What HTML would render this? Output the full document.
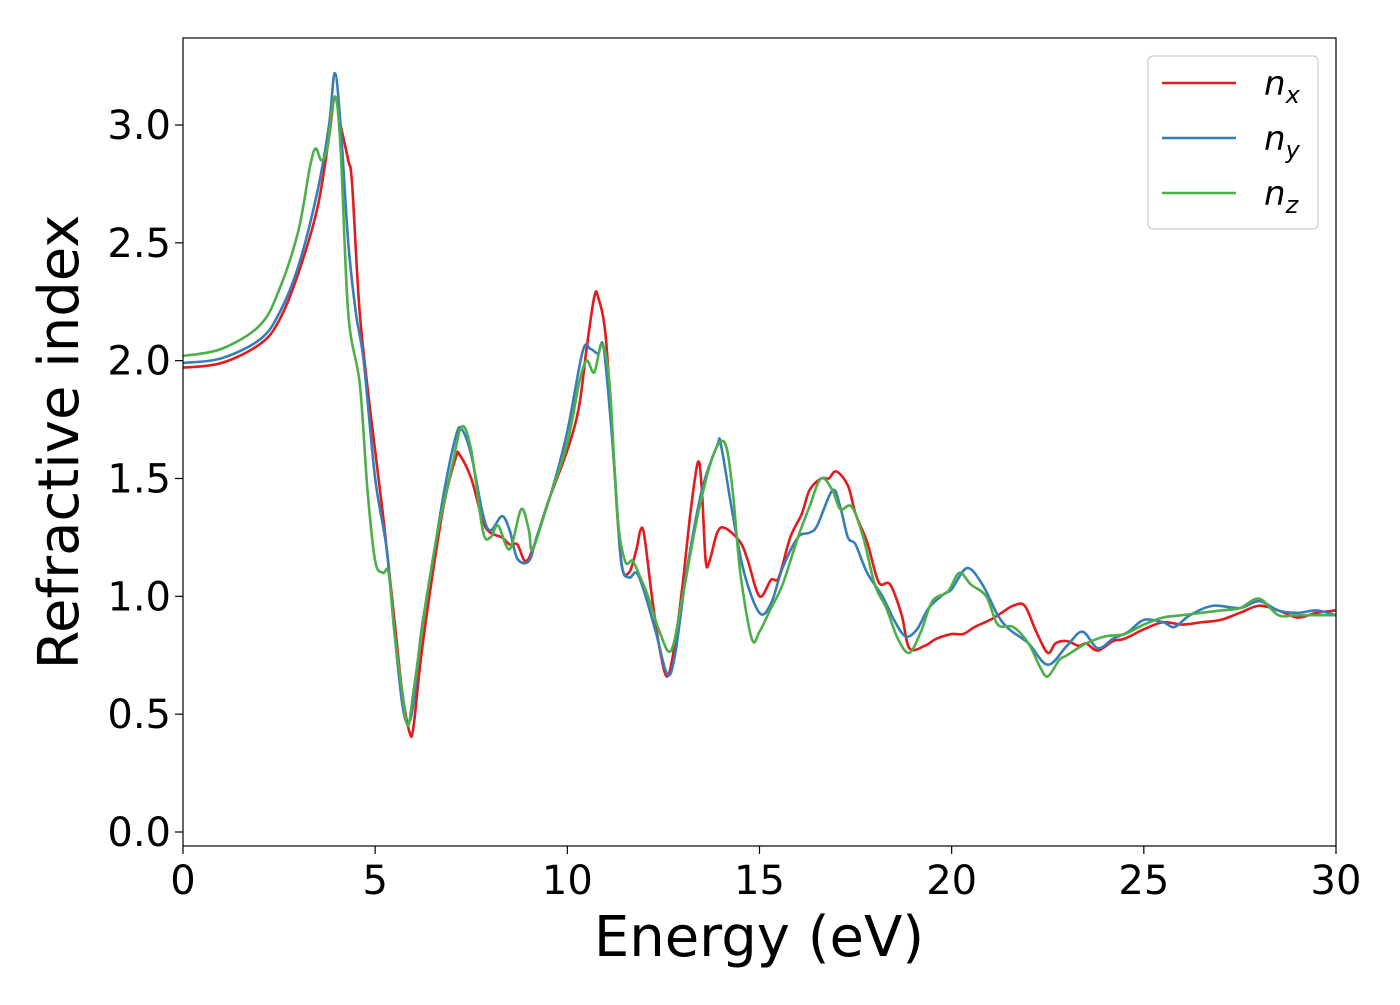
<!DOCTYPE html>
<html><head><meta charset="utf-8"><style>
body{margin:0;background:#fff}
svg text{font-family:"DejaVu Sans","Liberation Sans",sans-serif;fill:#000}
</style></head><body>
<svg id="chart" width="1400" height="1000" xmlns="http://www.w3.org/2000/svg">
<g id="plot"></g>
</svg>
<script>
const xTicks=[0,5,10,15,20,25,30];
const yTicks=[0.0,0.5,1.0,1.5,2.0,2.5,3.0];
const yTickLabels=["0.0","0.5","1.0","1.5","2.0","2.5","3.0"];
const nxE=[0,1,2,2.5,3,3.5,3.8,3.95,4.1,4.3,4.4,4.6,4.9,5.2,5.5,5.7,5.9,6.0,6.2,6.5,6.8,7.1,7.2,7.5,7.8,8.0,8.3,8.5,8.7,8.9,9.1,9.5,10.0,10.3,10.5,10.7,10.8,11.0,11.2,11.4,11.6,11.8,11.9,12.0,12.2,12.4,12.6,12.8,13.0,13.2,13.4,13.5,13.6,13.7,13.9,14.1,14.5,14.7,15.0,15.3,15.5,15.8,16.1,16.3,16.6,16.8,17.0,17.3,17.5,17.8,18.1,18.4,18.7,18.9,19.3,19.6,20,20.3,20.6,21.0,21.3,21.6,21.9,22.2,22.5,22.7,23,23.3,23.5,23.8,24.2,24.5,25,25.5,26,26.5,27,27.5,28,28.5,29,29.5,30];
const nxV=[1.97,1.99,2.07,2.17,2.37,2.65,2.95,3.12,3.0,2.85,2.75,2.2,1.75,1.35,0.9,0.6,0.42,0.45,0.75,1.1,1.4,1.59,1.6,1.5,1.32,1.27,1.25,1.22,1.22,1.15,1.2,1.4,1.62,1.8,2.05,2.27,2.27,2.1,1.6,1.15,1.1,1.2,1.28,1.26,1.0,0.78,0.66,0.8,1.05,1.35,1.57,1.45,1.15,1.15,1.27,1.29,1.23,1.15,1.0,1.07,1.08,1.25,1.35,1.45,1.5,1.5,1.53,1.47,1.35,1.23,1.06,1.05,0.92,0.78,0.79,0.82,0.84,0.84,0.87,0.9,0.93,0.96,0.96,0.85,0.76,0.8,0.81,0.79,0.8,0.77,0.81,0.82,0.86,0.89,0.88,0.89,0.9,0.93,0.96,0.94,0.91,0.93,0.94];
const nyE=[0,1,2,2.5,3,3.5,3.8,3.95,4.1,4.3,4.5,4.7,5.0,5.3,5.5,5.7,5.85,6.0,6.2,6.5,6.8,7.1,7.25,7.5,7.8,8.0,8.3,8.5,8.7,9.0,9.2,9.6,10.0,10.4,10.6,10.8,10.95,11.2,11.4,11.6,11.8,12.0,12.3,12.6,12.8,13.1,13.5,13.9,14.0,14.3,14.6,15.0,15.3,15.6,16.0,16.3,16.5,16.9,17.1,17.3,17.5,17.8,18.2,18.5,18.8,19.1,19.4,19.8,20.0,20.4,20.8,21.2,21.5,22,22.5,23,23.4,23.8,24.2,24.6,25,25.5,25.8,26.2,26.8,27.5,28,28.5,29,29.5,30];
const nyV=[1.99,2.01,2.09,2.2,2.4,2.72,3.0,3.22,3.0,2.5,2.2,2.0,1.5,1.2,0.85,0.55,0.46,0.55,0.85,1.15,1.45,1.68,1.71,1.6,1.35,1.28,1.34,1.28,1.16,1.15,1.25,1.45,1.7,2.04,2.05,2.03,2.05,1.6,1.15,1.08,1.1,1.02,0.85,0.67,0.75,1.1,1.45,1.64,1.64,1.35,1.1,0.93,0.97,1.12,1.25,1.27,1.3,1.45,1.38,1.25,1.22,1.1,1.0,0.9,0.83,0.86,0.95,1.01,1.03,1.12,1.05,0.92,0.86,0.8,0.71,0.79,0.85,0.78,0.82,0.85,0.9,0.89,0.87,0.92,0.96,0.95,0.98,0.94,0.93,0.94,0.92];
const nzE=[0,1,2,2.5,3,3.3,3.45,3.6,3.75,3.95,4.1,4.3,4.6,4.8,5.0,5.2,5.35,5.5,5.7,5.85,6.0,6.3,6.6,7.0,7.25,7.5,7.8,8.0,8.2,8.5,8.8,9.0,9.1,9.5,10.0,10.3,10.5,10.7,10.9,11.1,11.3,11.5,11.7,11.9,12.1,12.4,12.7,13.0,13.4,13.8,14.1,14.3,14.5,14.8,15.0,15.3,15.6,16.0,16.3,16.6,16.9,17.1,17.4,17.7,18.0,18.3,18.6,18.9,19.2,19.5,19.9,20.2,20.5,20.9,21.2,21.6,22,22.3,22.5,22.8,23,23.5,24,24.5,25,25.5,26,26.5,27,27.5,28,28.5,29,30];
const nzV=[2.02,2.05,2.15,2.3,2.55,2.82,2.9,2.85,2.9,3.12,2.9,2.2,1.9,1.45,1.15,1.1,1.1,0.85,0.6,0.45,0.6,0.95,1.25,1.55,1.72,1.62,1.28,1.25,1.3,1.2,1.37,1.28,1.2,1.4,1.65,1.9,2.0,1.95,2.07,1.9,1.35,1.15,1.15,1.08,1.0,0.85,0.77,1.0,1.35,1.6,1.65,1.45,1.1,0.82,0.85,0.95,1.05,1.25,1.38,1.5,1.45,1.37,1.38,1.25,1.05,0.95,0.82,0.76,0.85,0.98,1.02,1.1,1.05,1.0,0.88,0.87,0.8,0.7,0.66,0.73,0.75,0.8,0.83,0.84,0.88,0.91,0.92,0.93,0.94,0.95,0.99,0.92,0.92,0.92];

const L=183,R=1336,T=38,B=846;
const X=e=>L+(e-0)/30*(R-L);
const Y=v=>832-v*(832-125)/3;
const NS="http://www.w3.org/2000/svg";
const svg=document.getElementById('chart');
function mk(tag,attrs,parent){const el=document.createElementNS(NS,tag);for(const k in attrs)el.setAttribute(k,attrs[k]);(parent||svg).appendChild(el);return el;}
function smooth(E,V){const p=E.map((e,i)=>[X(e),Y(V[i])]);let d=`M${p[0][0]},${p[0][1]}`;
for(let i=0;i<p.length-1;i++){const p0=p[Math.max(0,i-1)],p1=p[i],p2=p[i+1],p3=p[Math.min(p.length-1,i+2)];
const c1=[p1[0]+(p2[0]-p0[0])/6,p1[1]+(p2[1]-p0[1])/6],c2=[p2[0]-(p3[0]-p1[0])/6,p2[1]-(p3[1]-p1[1])/6];
d+=`C${c1[0]},${c1[1]} ${c2[0]},${c2[1]} ${p2[0]},${p2[1]}`;}return d;}
const clip=mk('clipPath',{id:'cp'});mk('rect',{x:L,y:T,width:R-L,height:B-T},clip);
const series=[[nxE,nxV,'#e41a1c','series-nx'],[nyE,nyV,'#377eb8','series-ny'],[nzE,nzV,'#4daf4a','series-nz']];
const plot=document.getElementById('plot');plot.setAttribute('clip-path','url(#cp)');
series.forEach(s=>{const el=mk('path',{d:smooth(s[0],s[1]),fill:'none',stroke:s[2],'stroke-width':2.6},plot);

});
const frame=mk('rect',{x:L,y:T,width:R-L,height:B-T,fill:'none',stroke:'#000','stroke-width':1.2});


xTicks.forEach(t=>{mk('line',{x1:X(t),x2:X(t),y1:B,y2:B+8,stroke:'#000','stroke-width':1.2});
const tx=mk('text',{x:X(t),y:B+48,'font-size':40,'text-anchor':'middle'});tx.textContent=t;

});
yTicks.forEach((t,i)=>{mk('line',{x1:L-8,x2:L,y1:Y(t),y2:Y(t),stroke:'#000','stroke-width':1.2});
const tx=mk('text',{x:L-12,y:Y(t)+14,'font-size':40,'text-anchor':'end'});tx.textContent=yTickLabels[i];

});
const xt=mk('text',{x:759,y:956,'font-size':56,'text-anchor':'middle'});xt.textContent='Energy (eV)';


const yt=mk('text',{x:78,y:442,'font-size':56,'text-anchor':'middle',transform:'rotate(-90 78 442)'});yt.textContent='Refractive index';


const lg=mk('g',{});

mk('rect',{x:1148,y:56,width:170,height:173,rx:5,fill:'#fff',stroke:'#ccc','stroke-width':1.2},lg);
const subs=['x','y','z'];
series.forEach((s,i)=>{const yy=83+i*55;
mk('line',{x1:1162,x2:1236,y1:yy,y2:yy,stroke:s[2],'stroke-width':2.6},lg);
const t=mk('text',{x:1264,y:yy+12,'font-size':34,'font-style':'italic'},lg);


t.innerHTML='n<tspan font-size="24" dy="8">'+subs[i]+'</tspan>';});
</script>
</body></html>
